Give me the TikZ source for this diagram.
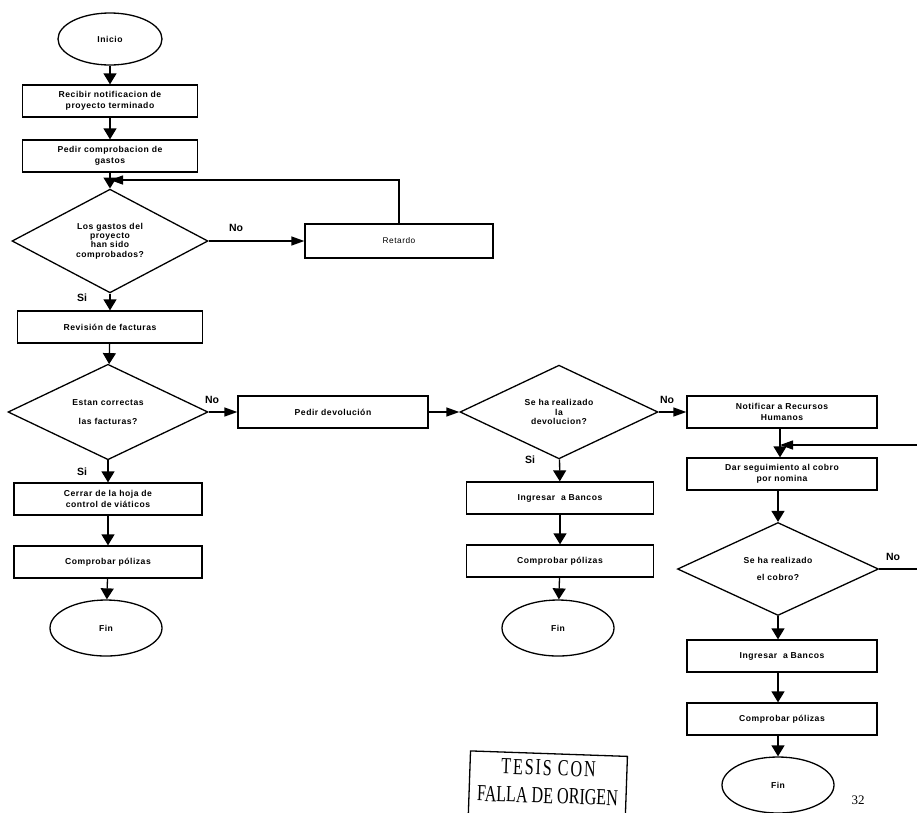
\documentclass[tikz,border=0pt]{standalone}
\usepackage{fontspec}
\setmainfont{Liberation Sans}
\newfontfamily\boxfont[LetterSpace=6]{Liberation Sans}
\newfontfamily\plainfont[LetterSpace=6]{Liberation Sans}
\newfontfamily\stampfont{Liberation Serif}
\newfontfamily\stampwide[LetterSpace=12]{Liberation Serif}
\usetikzlibrary{shapes.geometric,arrows.meta}

\begin{document}
\begin{tikzpicture}[x=1pt,y=-1pt,line width=1.3pt,
  stepbox/.style={draw, rectangle, minimum width=#1, minimum height=32pt,
    inner sep=0pt, align=center,
    font=\boxfont\bfseries\fontsize{8.6}{10.5}\selectfont},
  stepbox/.default=188pt,
  decision/.style={draw, diamond, minimum width=#1, minimum height=93pt,
    inner sep=0pt, align=center,
    font=\boxfont\bfseries\fontsize{8.6}{9.3}\selectfont},
  decision/.default=200pt,
  terminal/.style={draw, ellipse, minimum width=112pt, minimum height=56pt,
    inner sep=0pt, font=\boxfont\bfseries\fontsize{8.6}{9}\selectfont},
  answer/.style={font=\bfseries\fontsize{10.5}{12}\selectfont, inner sep=0pt},
  varr/.style={-{Triangle[length=11pt,width=13pt]}},
  harr/.style={-{Triangle[length=13pt,width=9pt]}}]

\useasboundingbox (0,0) rectangle (917,812);
\clip (0,0) rectangle (917,812);

% left column: start, request of expense report, decision loop
\node[terminal, minimum width=104pt, minimum height=52pt] (inicio) at (110,39) {Inicio};
\node[stepbox=175pt] (recibir) at (110,101) {Recibir notificacion de\\proyecto terminado};
\node[stepbox=175pt] (pedir) at (110,156) {Pedir comprobacion de\\gastos};
\coordinate (j1) at (110,180);
\node[decision=196pt] (gastos) at (110,241) {Los gastos del\\proyecto\\han sido\\comprobados?};
\node[draw, rectangle, minimum width=188pt, minimum height=34pt, inner sep=0pt,
  font=\plainfont\fontsize{8.3}{9}\selectfont] (retardo) at (399,241) {Retardo};
\node[stepbox=185pt] (revision) at (110,327) {Revisión de facturas};
\node[decision] (correctas) at (108,412) {Estan correctas\\[9pt]las facturas?};
\node[stepbox] (cerrar) at (108,499) {Cerrar de la hoja de\\control de viáticos};
\node[stepbox] (comp1) at (108,562) {Comprobar pólizas};
\node[terminal] (fin1) at (106,628) {Fin};

% middle column: refund
\node[stepbox=190pt] (devol) at (333,412) {Pedir devolución};
\node[decision=198pt] (realdev) at (559,412) {Se ha realizado\\la\\devolucion?};
\node[stepbox=187pt] (ingr1) at (560,498) {Ingresar \ a Bancos};
\node[stepbox=187pt] (comp2) at (560,561) {Comprobar pólizas};
\node[terminal] (fin2) at (558,628) {Fin};

% right column: payroll deduction
\node[stepbox=190pt] (notif) at (782,412) {Notificar a Recursos\\Humanos};
\coordinate (j2) at (780,445);
\node[stepbox=190pt] (seguir) at (782,474) {Dar seguimiento al cobro\\por nomina};
\node[decision=201pt] (cobro) at (778,569) {Se ha realizado\\[8pt]el cobro?};
\node[stepbox=190pt] (ingr2) at (782,656) {Ingresar \ a Bancos};
\node[stepbox=190pt] (comp3) at (782,719) {Comprobar pólizas};
\node[terminal] (fin3) at (778,785) {Fin};
\coordinate (outR) at (940,569);

% connectors
\draw[varr] (inicio) -- (recibir);
\draw[varr] (recibir) -- (pedir);
\draw[varr] (pedir) -- (gastos);
\draw[harr] (gastos.east) -- (retardo.west);
\draw[harr] (retardo.north) |- (j1);
\draw[varr] (gastos) -- (revision);
\draw[varr] (revision) -- (correctas);
\draw[harr] (correctas.east) -- (devol.west);
\draw[varr] (correctas) -- (cerrar);
\draw[varr] (cerrar) -- (comp1);
\draw[varr] (comp1) -- (fin1);

\draw[harr] (devol.east) -- (realdev.west);
\draw[varr] (realdev) -- (ingr1);
\draw[varr] (ingr1) -- (comp2);
\draw[varr] (comp2) -- (fin2);

\draw[harr] (realdev.east) -- (notif.west);
\draw[varr] (notif.south -| j2) -- (seguir.north -| j2);
\draw[harr] (cobro.east) -- (outR) |- (j2);
\draw[varr] (seguir.south -| cobro) -- (cobro);
\draw[varr] (cobro) -- (ingr2.north -| cobro);
\draw[varr] (ingr2.south -| cobro) -- (comp3.north -| cobro);
\draw[varr] (comp3.south -| cobro) -- (fin3);

% branch labels
\node[answer] (no1) at (236,228) {No};
\node[answer] (si1) at (82,298) {Si};
\node[answer] (no2) at (212,400) {No};
\node[answer] (si2) at (82,472) {Si};
\node[answer] (no3) at (667,400) {No};
\node[answer] (si3) at (530,460) {Si};
\node[answer] (no4) at (893,557) {No};

% page number and stamp (its lower part runs off the page)
\node[font=\stampfont\fontsize{13}{15}\selectfont, inner sep=0pt] (page) at (858,800) {32};
\node[draw, rotate=-2, anchor=north, minimum width=157pt, inner xsep=0pt,
  inner ysep=2pt, font=\stampfont\fontsize{23}{28}\selectfont] (stamp) at (549,753)
  {\scalebox{0.7}[1]{\begin{tabular}{@{}c@{}}{\stampwide TESIS CON}\\FALLA DE ORIGEN\\[14pt]\end{tabular}}};
\end{tikzpicture}
\end{document}
